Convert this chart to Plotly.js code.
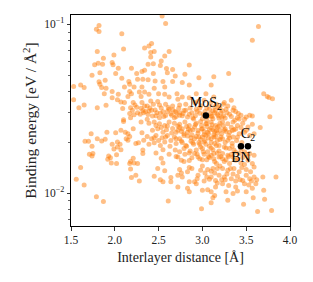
<!DOCTYPE html>
<html><head><meta charset="utf-8">
<script src="https://cdn.plot.ly/plotly-3.0.1.min.js"></script>
<style>html,body{margin:0;padding:0;background:#fff}#chart{width:313px;height:282px}</style>
</head><body><div id="chart"></div>
<script>
// Interlayer distance [Å] of each compound
const distance = [
 1.82,1.79,1.82,2.08,1.80,2.10,2.34,1.87,1.99,1.77,1.81,1.86,1.97,1.98,2.04,2.19,1.83,1.74,2.01,2.25,2.31,2.34,2.08,1.89,1.82,1.83,1.53,1.61,1.65,2.16,2.17,2.26,2.32,1.85,1.90,1.88,1.97,2.04,2.11,2.22,2.31,2.17,2.19,2.15,2.28,2.30,2.34,1.53,1.97,2.03,1.65,1.59,1.80,1.90,2.07,2.11,2.09,2.21,2.23,2.25,2.18,2.31,2.34,2.32,2.29,2.17,2.18,2.22,2.10,
 2.54,2.58,2.42,2.39,2.41,2.45,2.62,2.57,2.41,2.53,2.38,2.44,2.52,2.85,2.59,2.66,2.44,2.60,2.69,2.80,2.96,3.13,2.38,2.46,2.55,2.66,2.77,2.85,3.10,2.45,2.57,2.39,2.50,2.57,2.71,2.93,3.04,2.62,2.77,2.85,3.13,2.41,2.49,2.72,2.95,3.02,2.37,2.44,2.51,2.58,2.66,2.74,2.81,2.91,3.16,2.39,2.46,2.55,2.62,2.70,2.79,2.85,2.93,3.12,3.17,2.43,2.51,2.58,2.68,2.74,2.89,3.10,3.19,2.37,
 3.64,3.57,3.30,3.70,3.74,3.76,3.80,3.33,3.24,3.29,3.27,3.36,3.38,3.41,3.23,3.31,3.57,3.77,3.48,3.40,3.24,3.54,
 2.10,2.30,2.01,1.73,1.91,2.07,2.12,2.21,2.15,2.17,2.13,2.15,2.31,1.66,1.70,1.80,1.85,1.89,1.74,1.97,2.03,2.06,2.03,1.99,2.07,2.24,2.27,2.33,2.32,2.32,1.71,1.75,1.74,1.93,1.95,1.92,2.02,1.96,2.02,2.21,2.18,2.22,2.17,2.26,2.18,1.61,1.56,2.24,2.19,2.28,1.65,1.79,1.87,
 2.39,2.45,2.51,2.57,2.62,2.68,2.74,2.80,2.85,2.93,2.98,3.04,3.10,3.15,3.20,
 2.43,2.49,2.55,2.59,2.65,2.72,2.77,2.83,2.89,2.95,3.00,3.06,3.12,3.17,
 2.37,2.42,2.47,2.54,2.60,2.68,2.74,2.79,2.87,2.93,2.98,3.04,3.10,3.15,3.20,
 2.39,2.45,2.52,2.57,2.63,2.70,2.76,2.81,2.89,2.97,3.02,3.08,3.14,3.19,
 2.47,2.55,2.69,2.74,2.79,2.85,2.93,3.00,3.06,3.12,3.17,
 2.53,2.55,2.72,2.79,2.85,2.76,2.95,3.00,3.08,3.14,3.19,
 2.49,2.57,2.74,2.76,2.83,2.85,2.98,3.06,3.14,3.17,
 2.45,2.52,2.55,2.64,2.64,2.72,2.77,2.85,2.91,2.93,3.02,3.10,3.15,
 2.72,2.83,2.85,3.00,3.06,3.10,3.14,3.15,
 2.61,3.12,3.10,2.99,
 3.23,3.29,3.35,3.40,3.46,3.52,3.57,3.66,3.25,3.31,3.36,3.42,3.48,3.54,3.59,3.23,3.29,3.35,3.25,3.31,3.36,
 3.23,3.29,3.35,3.42,3.48,3.54,3.59,3.25,3.31,3.38,3.44,3.52,3.57,3.23,3.29,3.36,3.42,3.50,3.55,3.59,
 3.25,3.33,3.40,3.46,3.54,3.59,3.69,3.84,3.23,3.30,3.38,3.48,3.57,3.61,3.27,3.35,3.40,3.50,3.70,3.29,3.47,3.58,3.71,3.63,3.79,
 2.64,2.70,2.78,2.83,2.88,2.92,2.97,3.00,3.03,3.06,3.09,3.12,3.15,3.18,3.21,3.26,3.33,3.37,3.44,3.50,
 2.47,2.53,2.60,2.66,2.72,2.76,2.82,2.86,2.91,2.95,2.99,3.02,3.05,3.08,3.11,3.14,3.17,3.20,3.24,3.27,3.33,3.38,3.44,3.50,
 2.45,2.50,2.58,2.64,2.70,2.77,2.83,2.87,2.91,2.96,3.00,3.03,3.07,3.10,3.13,3.17,3.21,3.26,3.31,3.34,3.39,3.45,
 2.62,2.70,2.80,2.88,2.91,2.97,3.02,3.05,3.10,3.13,3.16,3.21,3.27,3.33,3.40,3.46,3.48,3.52,
 2.95,3.03,3.08,3.12,3.19,3.22,3.28,3.35,3.43,3.50,3.56,3.62,
 2.20,2.26,2.30,2.35,2.40,2.48,2.53,2.60,2.66,2.74,
 2.98,3.05,3.09,3.14,3.20,3.25,
 2.33,2.38,2.42,2.47,2.52,2.56,2.61,2.65,2.69,2.73,2.77,2.81,2.86,2.90,2.94,2.97,3.01,3.05,3.08,3.11,3.14,3.19,3.22,3.28,3.35,3.42,
 2.70,2.74,2.79,2.84,2.88,2.92,2.96,2.99,3.02,3.05,3.07,3.10,3.13,3.16,3.19,3.22,3.26,3.30,3.34,3.40,
 2.82,2.86,2.90,2.94,2.98,3.01,3.04,3.07,3.10,3.13,3.16,3.19,3.23,3.27,3.30,3.34,3.38,3.44,3.50,
 2.88,2.94,3.00,3.05,3.10,3.17,3.20,3.26,3.32,3.38,3.45,3.53
];
// Binding energy [eV / Å²] of each compound
const bindingEnergy = [
 0.0982,0.0934,0.0905,0.0880,0.0690,0.0715,0.0725,0.0629,0.0659,0.0577,0.0589,0.0580,0.0595,0.0577,0.0549,0.0549,0.0517,0.0499,0.0511,0.0511,0.0525,0.0534,0.0479,0.0467,0.0457,0.0441,0.0428,0.0437,0.0422,0.0458,0.0441,0.0473,0.0473,0.0422,0.0418,0.0388,0.0400,0.0385,0.0426,0.0426,0.0426,0.0400,0.0388,0.0374,0.0398,0.0374,0.0398,0.0358,0.0368,0.0358,0.0333,0.0321,0.0321,0.0332,0.0347,0.0344,0.0317,0.0344,0.0333,0.0323,0.0321,0.0344,0.0328,0.0309,0.0293,0.0296,0.0280,0.0291,0.0272,
 0.112,0.101,0.0769,0.0745,0.0680,0.0690,0.0690,0.0650,0.0641,0.0607,0.0580,0.0585,0.0570,0.0574,0.0547,0.0540,0.0511,0.0517,0.0494,0.0506,0.0483,0.0490,0.0470,0.0462,0.0458,0.0458,0.0452,0.0437,0.0437,0.0418,0.0426,0.0385,0.0388,0.0385,0.0388,0.0388,0.0388,0.0371,0.0371,0.0368,0.0371,0.0352,0.0349,0.0360,0.0349,0.0355,0.0328,0.0336,0.0333,0.0336,0.0328,0.0333,0.0336,0.0344,0.0336,0.0307,0.0311,0.0304,0.0314,0.0302,0.0309,0.0293,0.0314,0.0307,0.0293,0.0287,0.0280,0.0289,0.0280,0.0290,0.0280,0.0287,0.0278,0.0274,
 0.0969,0.0805,0.0511,0.0388,0.0374,0.0369,0.0362,0.0355,0.0336,0.0328,0.0314,0.0321,0.0305,0.0296,0.0307,0.0293,0.0287,0.0284,0.0274,0.0280,0.0287,0.0290,
 0.0266,0.0264,0.0228,0.0225,0.0230,0.0236,0.0230,0.0241,0.0225,0.0217,0.0210,0.0206,0.0228,0.0203,0.0203,0.0210,0.0204,0.0209,0.0190,0.0195,0.0201,0.0195,0.0188,0.0183,0.0181,0.0197,0.0199,0.0206,0.0180,0.0172,0.0170,0.0172,0.0166,0.0166,0.0162,0.0159,0.0169,0.0151,0.0150,0.0161,0.0154,0.0151,0.0150,0.0150,0.0139,0.0142,0.0121,0.0128,0.0124,0.0118,0.0112,0.00955,0.00893,
 0.0260,0.0264,0.0258,0.0252,0.0264,0.0260,0.0256,0.0264,0.0252,0.0260,0.0266,0.0258,0.0264,0.0252,0.0260,
 0.0236,0.0241,0.0230,0.0238,0.0227,0.0236,0.0241,0.0230,0.0238,0.0227,0.0241,0.0230,0.0238,0.0227,
 0.0217,0.0210,0.0220,0.0213,0.0220,0.0215,0.0210,0.0220,0.0213,0.0217,0.0208,0.0220,0.0210,0.0217,0.0208,
 0.0195,0.0199,0.0192,0.0201,0.0190,0.0197,0.0204,0.0192,0.0199,0.0195,0.0201,0.0190,0.0197,0.0192,
 0.0173,0.0181,0.0180,0.0176,0.0184,0.0173,0.0180,0.0184,0.0176,0.0181,0.0173,
 0.0161,0.0151,0.0164,0.0154,0.0156,0.0157,0.0164,0.0158,0.0163,0.0154,0.0164,
 0.0140,0.0136,0.0138,0.0132,0.0134,0.0142,0.0137,0.0138,0.0132,0.0140,
 0.0126,0.0120,0.0117,0.0124,0.0117,0.0128,0.0125,0.0117,0.0117,0.0114,0.0118,0.0125,0.0119,
 0.0109,0.0107,0.0102,0.0104,0.0105,0.0102,0.0097,0.0109,
 0.0090,0.0094,0.0088,0.0081,
 0.0264,0.0258,0.0264,0.0252,0.0260,0.0247,0.0256,0.0245,0.0236,0.0230,0.0238,0.0225,0.0230,0.0220,0.0225,0.0210,0.0206,0.0215,0.0188,0.0184,0.0180,
 0.0172,0.0168,0.0164,0.0172,0.0176,0.0172,0.0168,0.0154,0.0150,0.0157,0.0151,0.0157,0.0150,0.0140,0.0137,0.0140,0.0134,0.0138,0.0134,0.0143,
 0.0125,0.0122,0.0126,0.0119,0.0122,0.0125,0.0125,0.0125,0.0114,0.0111,0.0109,0.0114,0.0107,0.0114,0.0102,0.00995,0.0103,0.0102,0.0104,0.0091,0.0086,0.0094,0.0092,0.0078,0.0079,
 0.0295,0.0285,0.0296,0.0283,0.0300,0.0288,0.0298,0.0276,0.0305,0.0285,0.0296,0.0276,0.0310,0.0288,0.0300,0.0279,0.0285,0.0270,0.0290,0.0283,
 0.0252,0.0245,0.0250,0.0242,0.0250,0.0232,0.0248,0.0236,0.0247,0.0235,0.0252,0.0232,0.0248,0.0238,0.0254,0.0232,0.0246,0.0236,0.0250,0.0232,0.0246,0.0240,0.0245,0.0236,
 0.0213,0.0205,0.0215,0.0205,0.0210,0.0200,0.0218,0.0203,0.0210,0.0200,0.0215,0.0205,0.0212,0.0200,0.0222,0.0205,0.0215,0.0200,0.0212,0.0198,0.0205,0.0200,
 0.0170,0.0165,0.0170,0.0162,0.0172,0.0160,0.0170,0.0158,0.0168,0.0160,0.0150,0.0165,0.0158,0.0170,0.0160,0.0163,0.0148,0.0165,
 0.0128,0.0132,0.0121,0.0140,0.0128,0.0120,0.0130,0.0130,0.0120,0.0128,0.0118,0.0120,
 0.0310,0.0300,0.0318,0.0305,0.0320,0.0300,0.0320,0.0305,0.0312,0.0300,
 0.0330,0.0320,0.0340,0.0325,0.0318,0.0345,
 0.0300,0.0292,0.0310,0.0288,0.0298,0.0285,0.0322,0.0290,0.0305,0.0318,0.0288,0.0310,0.0320,0.0275,0.0305,0.0320,0.0292,0.0270,0.0315,0.0285,0.0300,0.0325,0.0282,0.0300,0.0310,0.0275,
 0.0230,0.0245,0.0225,0.0240,0.0222,0.0255,0.0215,0.0240,0.0222,0.0258,0.0225,0.0243,0.0215,0.0235,0.0250,0.0225,0.0240,0.0220,0.0235,0.0215,
 0.0190,0.0178,0.0195,0.0170,0.0188,0.0176,0.0195,0.0165,0.0185,0.0172,0.0192,0.0178,0.0160,0.0185,0.0165,0.0190,0.0175,0.0182,0.0170,
 0.0140,0.0122,0.0145,0.0125,0.0135,0.0115,0.0145,0.0120,0.0140,0.0118,0.0142,0.0112
];
// Highlighted reference compounds
const refNames = ['MoS<sub>2</sub>', 'C<sub>2</sub>', 'BN'];
const refDistance = [3.04, 3.52, 3.44];
const refEnergy = [0.0289, 0.0190, 0.0190];
// Axis ticks
const xTickVals = [1.5, 2.0, 2.5, 3.0, 3.5, 4.0];
const xTickText = ['1.5', '2.0', '2.5', '3.0', '3.5', '4.0'];
const yTickVals = [0.01, 0.1];
const yTickText = ['10<sup>−2</sup>', '10<sup>−1</sup>'];
const yMinorVals = [0.007, 0.008, 0.009, 0.02, 0.03, 0.04, 0.05, 0.06, 0.07, 0.08, 0.09];

const serif = '"Liberation Serif", "DejaVu Serif", serif';
const traces = [
  {
    type: 'scatter', mode: 'markers', x: distance, y: bindingEnergy,
    marker: {size: 5, color: 'rgba(255,127,14,0.5)', line: {width: 0}},
    hoverinfo: 'skip', showlegend: false
  },
  {
    type: 'scatter', mode: 'markers+text', x: refDistance, y: refEnergy,
    text: refNames, textposition: ['top center', 'top center', 'bottom center'],
    textfont: {family: serif, size: 14, color: '#000'},
    marker: {size: 6.5, color: '#000'},
    showlegend: false, cliponaxis: false
  }
];
const axisCommon = {
  showline: true, linecolor: '#000', linewidth: 1, mirror: true,
  showgrid: false, zeroline: false, ticks: 'outside', ticklen: 3.5, tickwidth: 0.8,
  tickcolor: '#000', tickfont: {family: serif, size: 11.5, color: '#222'}
};
const layout = {
  width: 313, height: 282,
  margin: {l: 71, r: 23, t: 15, b: 56},
  paper_bgcolor: '#fff', plot_bgcolor: '#fff',
  font: {family: serif, color: '#222'},
  xaxis: Object.assign({}, axisCommon, {
    range: [1.5, 4.0], tickmode: 'array', tickvals: xTickVals, ticktext: xTickText,
    title: {text: 'Interlayer distance [Å]', font: {family: serif, size: 14, color: '#222'}, standoff: 6}
  }),
  yaxis: Object.assign({}, axisCommon, {
    type: 'log', range: [Math.log10(0.0064), Math.log10(0.1135)],
    tickmode: 'array', tickvals: yTickVals, ticktext: yTickText,
    minor: {tickmode: 'array', tickvals: yMinorVals, ticks: 'outside', ticklen: 2, tickwidth: 0.6, tickcolor: '#000', showgrid: false},
    title: {text: 'Binding energy [eV / Å<sup>2</sup>]', font: {family: serif, size: 15.5, color: '#222'}, standoff: 3}
  })
};
Plotly.newPlot('chart', traces, layout, {displayModeBar: false, staticPlot: true});
</script>
</body></html>
